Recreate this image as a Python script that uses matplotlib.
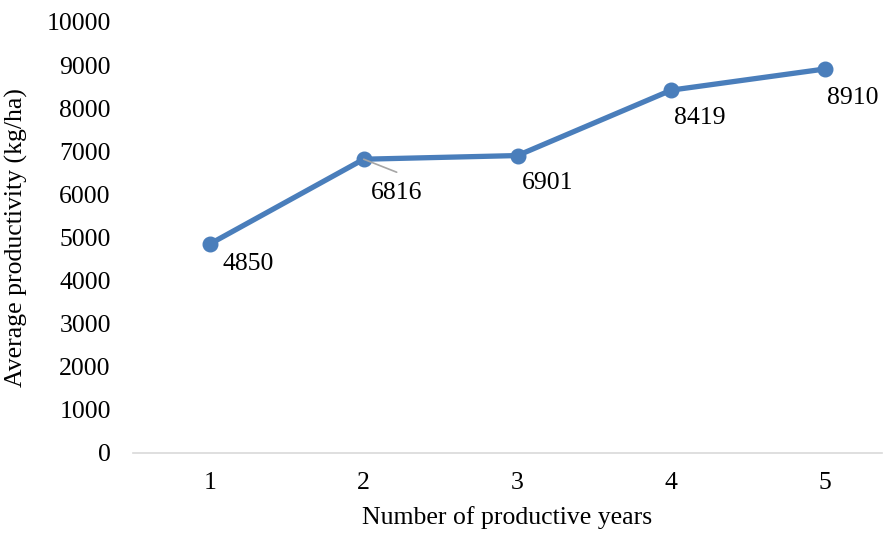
import matplotlib.pyplot as plt

years = [1, 2, 3, 4, 5]
productivity = [4850, 6816, 6901, 8419, 8910]
yticks = [0, 1000, 2000, 3000, 4000, 5000, 6000, 7000, 8000, 9000, 10000]

plt.rcParams['font.family'] = ['Liberation Serif', 'DejaVu Serif']
fs = 18.5

fig = plt.figure(figsize=(8.83, 5.35), dpi=100)
ax = fig.add_axes([0.1506, 0.1533, 0.8483, 0.8056])

ax.plot(years, productivity, color='#4A7EBB', linewidth=3.8,
        marker='o', markersize=10.5, solid_capstyle='round', zorder=3)

# data labels below right of each point, offsets in pixels as placed in the original
offs = [(38, -20), (33, -34), (30, -27), (28, -28), (28, -29)]
for x, y, (dx, dy) in zip(years, productivity, offs):
    ax.annotate(str(y), (x, y), xytext=(dx, dy), textcoords='offset pixels',
                ha='center', va='center', fontsize=fs)

# leader line for the second label
ax.annotate('', (years[1], productivity[1]), xytext=(33, -13), textcoords='offset pixels',
            arrowprops=dict(arrowstyle='-', color='#A6A6A6', lw=1.2, shrinkA=0, shrinkB=0))

ax.set_xlim(0.5, 5.37)
ax.set_ylim(0, 10000)
ax.set_xticks(years)
ax.set_yticks(yticks)
ax.tick_params(axis='y', length=0, labelsize=fs, pad=16)
ax.tick_params(axis='x', length=0, labelsize=fs, pad=14)

for s in ['top', 'right', 'left']:
    ax.spines[s].set_visible(False)
ax.spines['bottom'].set_color('#D9D9D9')
ax.spines['bottom'].set_linewidth(1.2)

ax.set_xlabel('Number of productive years', fontsize=fs, labelpad=8)
ax.set_ylabel('Average productivity (kg/ha)', fontsize=fs, labelpad=13)

fig.savefig('out.png', dpi=100)
